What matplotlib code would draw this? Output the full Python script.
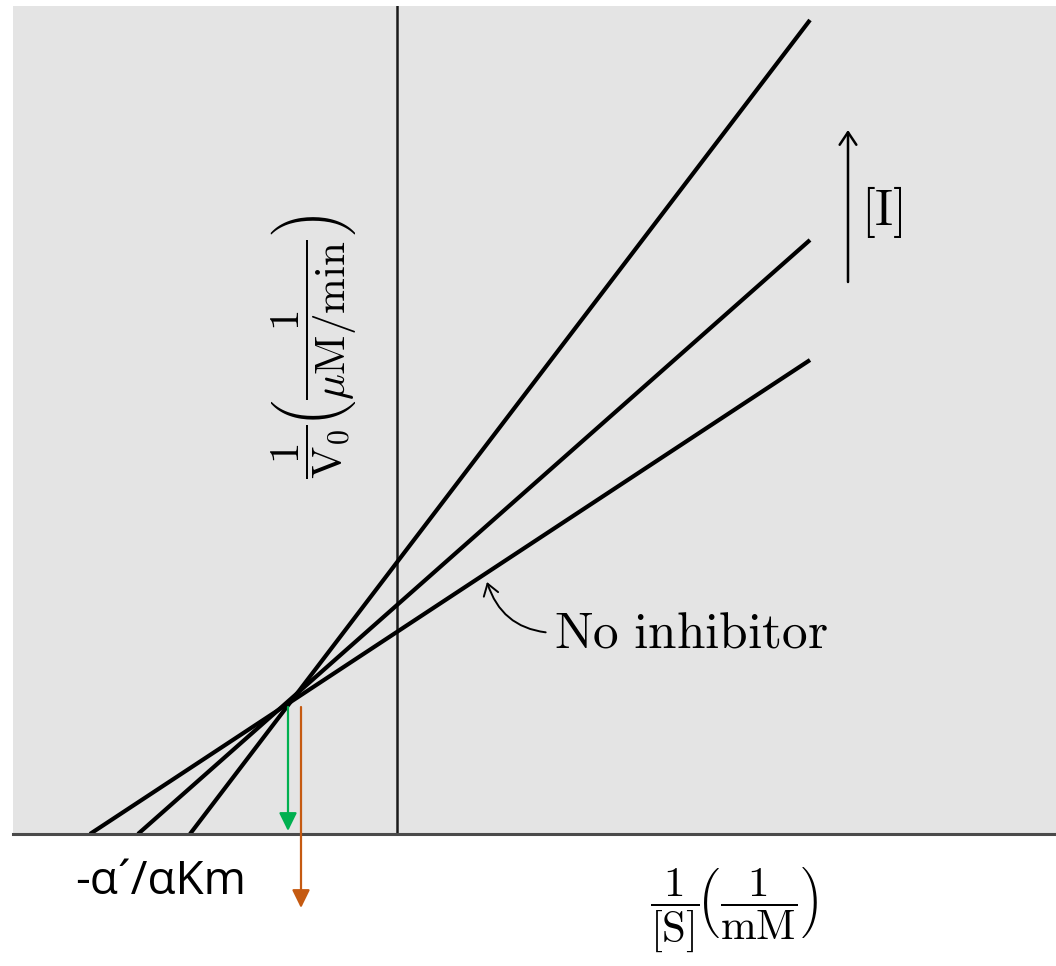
import matplotlib
matplotlib.use("Agg")
import matplotlib.pyplot as plt

plt.rcParams['mathtext.fontset'] = 'cm'

# Data (arbitrary units; y-axis at x=0)
series_names = ["No inhibitor", "Inhibitor (low)", "Inhibitor (high)"]
x_intercepts = [-3.07, -2.59, -2.07]
x_end = 4.13
y_end = [4.74, 5.94, 8.14]
intersection_x = -1.09
intersection_y = 1.29

W, H = 1056, 966
fig = plt.figure(figsize=(W / 100, H / 100), dpi=100, facecolor='white')
ax = fig.add_axes([13 / W, (H - 834) / H, (W - 13) / W, (834 - 6) / H])
ax.set_facecolor('#e4e4e4')
ax.set_xlim(-3.84, 6.59)
ax.set_ylim(0, 8.28)
for s in ['top', 'left', 'right']:
    ax.spines[s].set_visible(False)
ax.spines['bottom'].set_color('#4a4a4a')
ax.spines['bottom'].set_linewidth(2.2)
ax.set_xticks([])
ax.set_yticks([])

# vertical axis
ax.axvline(0, color='#1a1a1a', lw=1.8)

# lines
for xi, ye in zip(x_intercepts, y_end):
    ax.plot([xi, x_end], [0, ye], color='black', lw=3.0, solid_capstyle='butt')

# green and orange arrows
ax.annotate('', xy=(intersection_x, 0.03), xytext=(intersection_x, intersection_y - 0.02),
            arrowprops=dict(arrowstyle='-|>,head_length=0.55,head_width=0.27', color='#00b050',
                            lw=1.6, mutation_scale=20, shrinkA=0, shrinkB=0),
            annotation_clip=False)
ax.annotate('', xy=(intersection_x + 0.13, -0.74), xytext=(intersection_x + 0.13, intersection_y - 0.02),
            arrowprops=dict(arrowstyle='-|>,head_length=0.55,head_width=0.27', color='#c55a11',
                            lw=1.6, mutation_scale=20, shrinkA=0, shrinkB=0),
            annotation_clip=False)

ax.text(-3.22, -0.48, '-α´/αKm', ha='left', va='center', fontsize=33,
        family=['Open Sans', 'DejaVu Sans'], clip_on=False)

# [I] arrow
ax.annotate('', xy=(4.51, 7.04), xytext=(4.51, 5.52),
            arrowprops=dict(arrowstyle='->,head_length=0.45,head_width=0.3', color='black',
                            lw=1.8, mutation_scale=20, shrinkA=0, shrinkB=0))
ax.text(4.64, 6.22, r'$\mathrm{[I]}$', ha='left', va='center', fontsize=36)

# No inhibitor annotation
ax.annotate(r'$\mathrm{No\ inhibitor}$', xy=(0.90, 2.52), xytext=(1.57, 2.01),
            ha='left', va='center', fontsize=37,
            arrowprops=dict(arrowstyle='->,head_length=0.45,head_width=0.3', color='black',
                            lw=1.4, mutation_scale=18, shrinkA=4, shrinkB=0,
                            connectionstyle='arc3,rad=-0.35',
                            relpos=(0, 0.5)))

# axis labels
ax.text(-0.84, 4.87, r'$\dfrac{1}{\mathrm{V_0}}\!\left(\dfrac{1}{\mu\mathrm{M/min}}\right)$',
        rotation=90, ha='center', va='center', fontsize=31)
ax.text(3.37, -0.76, r'$\dfrac{1}{[\mathrm{S}]}\!\left(\dfrac{1}{\mathrm{mM}}\right)$',
        ha='center', va='center', fontsize=31, clip_on=False)

fig.savefig('out.png', dpi=100, facecolor='white')
